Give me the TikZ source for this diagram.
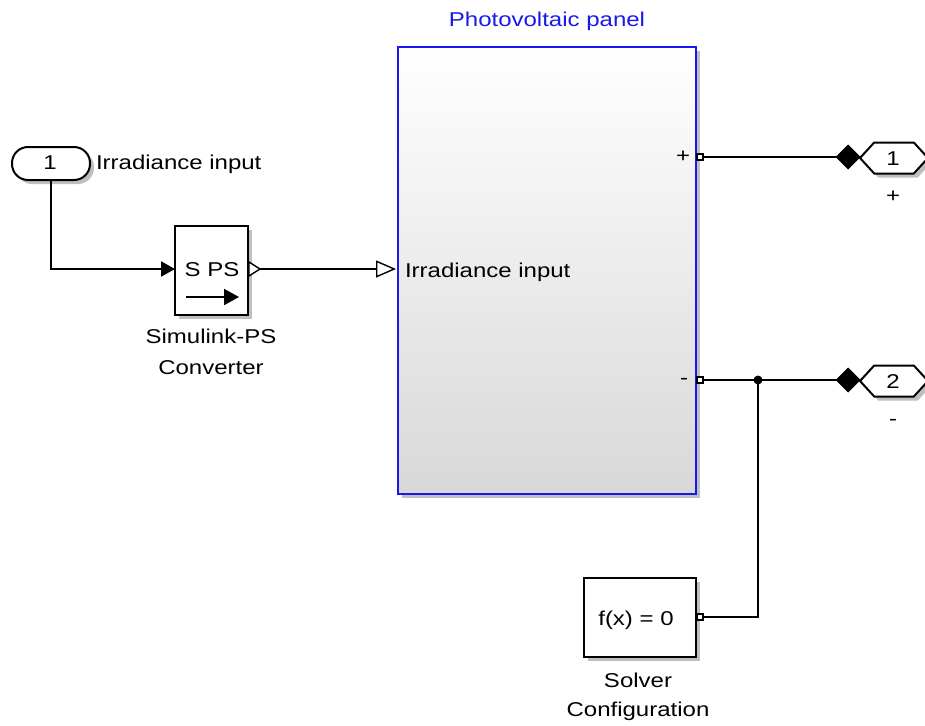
\documentclass[tikz,border=0pt]{standalone}
\usepackage{fontspec}
\setmainfont{Liberation Sans}
\usetikzlibrary{arrows.meta,shadows,shapes.geometric,shapes.symbols}
\definecolor{pvblue}{RGB}{25,25,235}
\definecolor{pvgray}{RGB}{216,216,216}
\newcommand{\wtxt}[1]{\scalebox{1.2}[1]{#1}}
\begin{document}
\begin{tikzpicture}[x=1pt,y=-1pt,
  every node/.style={font=\fontsize{20}{24}\selectfont, inner sep=0pt, outer sep=0pt},
  wire/.style={line width=2pt, black},
  shad/.style={drop shadow={shadow xshift=4pt,shadow yshift=-4pt,opacity=0.25,fill=black}},
  blk/.style={draw, line width=2pt, fill=white, shad},
  portsq/.style={draw, line width=1.4pt, fill=white, minimum width=6pt, minimum height=6pt},
  txt/.style={anchor=base},
  txtw/.style={anchor=base west}]
\useasboundingbox (0,0) rectangle (925,725);

% Photovoltaic panel
\node[draw=pvblue, line width=2.6pt, top color=white, bottom color=pvgray,
      minimum width=298pt, minimum height=447pt, shad] (pv) at (547,270.5) {};
\node[txt, text=pvblue] (title) at (547,27) {\wtxt{Photovoltaic panel}};
\node[portsq] (pplus) at (700,157) {};
\node[portsq] (pminus) at (700,380) {};
\node (lplus) at (683,157) {\wtxt{+}};
\node (lminus) at (684,381) {\wtxt{-}};
\node[txtw] (lirr) at (405,277) {\wtxt{Irradiance input}};
\coordinate (pvin) at (396,269);

% Inport 1
\node[blk, rounded corners=16pt, minimum width=78pt, minimum height=33pt] (in1) at (51,163.5) {};
\node[txt] (in1txt) at (50,169) {\wtxt{1}};
\node[txtw] (lin1) at (96,169) {\wtxt{Irradiance input}};

% Simulink-PS converter
\node[blk, minimum width=73pt, minimum height=89pt] (sps) at (211.5,270.5) {};
\node[txt] (spstxt) at (212,276) {\wtxt{S PS}};
\coordinate (arrA) at (186,297);
\coordinate (arrB) at (239,297);
\draw[line width=2pt, -{Triangle[length=15pt,width=16pt]}] (arrA) -- (arrB);
\coordinate (spsout) at (260,269);
\draw[line width=1.4pt, fill=white] (249,262) -- (spsout) -- (249,276) -- cycle;
\node[txt] (spsl1) at (211,343) {\wtxt{Simulink-PS}};
\node[txt] (spsl2) at (211,374) {\wtxt{Converter}};

% Outports
\node[diamond, fill=black, minimum width=25pt, minimum height=25pt] (d1) at (848,157) {};
\node[blk, signal, signal to=west and east, signal pointer angle=95,
      minimum width=68pt, minimum height=31pt] (out1) at (894,158) {};
\node[txt] (out1txt) at (893,165) {\wtxt{1}};
\node (out1l) at (893,197) {\wtxt{+}};

\node[diamond, fill=black, minimum width=25pt, minimum height=25pt] (d2) at (848,380) {};
\node[blk, signal, signal to=west and east, signal pointer angle=95,
      minimum width=68pt, minimum height=31pt] (out2) at (894,381) {};
\node[txt] (out2txt) at (893,388) {\wtxt{2}};
\node (out2l) at (893,422) {\wtxt{-}};

% Solver configuration
\node[blk, minimum width=112pt, minimum height=79pt] (solver) at (640,617.5) {};
\node[txt] (soltxt) at (636,625) {\wtxt{f(x) = 0}};
\node[portsq] (sport) at (700,617) {};
\node[txt] (soll1) at (638,687) {\wtxt{Solver}};
\node[txt] (soll2) at (638,716) {\wtxt{Configuration}};

% Wires
\draw[wire, -{Triangle[length=14pt,width=15pt]}] (in1.south) |- (sps.west |- spsout);
\draw[wire, -{Triangle[open,length=20pt,width=17pt,line width=1.4pt]}] (spsout) -- (pvin);
\draw[wire] (pplus.east) -- (d1.center);
\coordinate (j) at (758,380);
\draw[wire] (pminus.east) -- (d2.center);
\draw[wire] (sport.east) -| (j);
\fill (j) circle (4.5pt);
\end{tikzpicture}
\end{document}
